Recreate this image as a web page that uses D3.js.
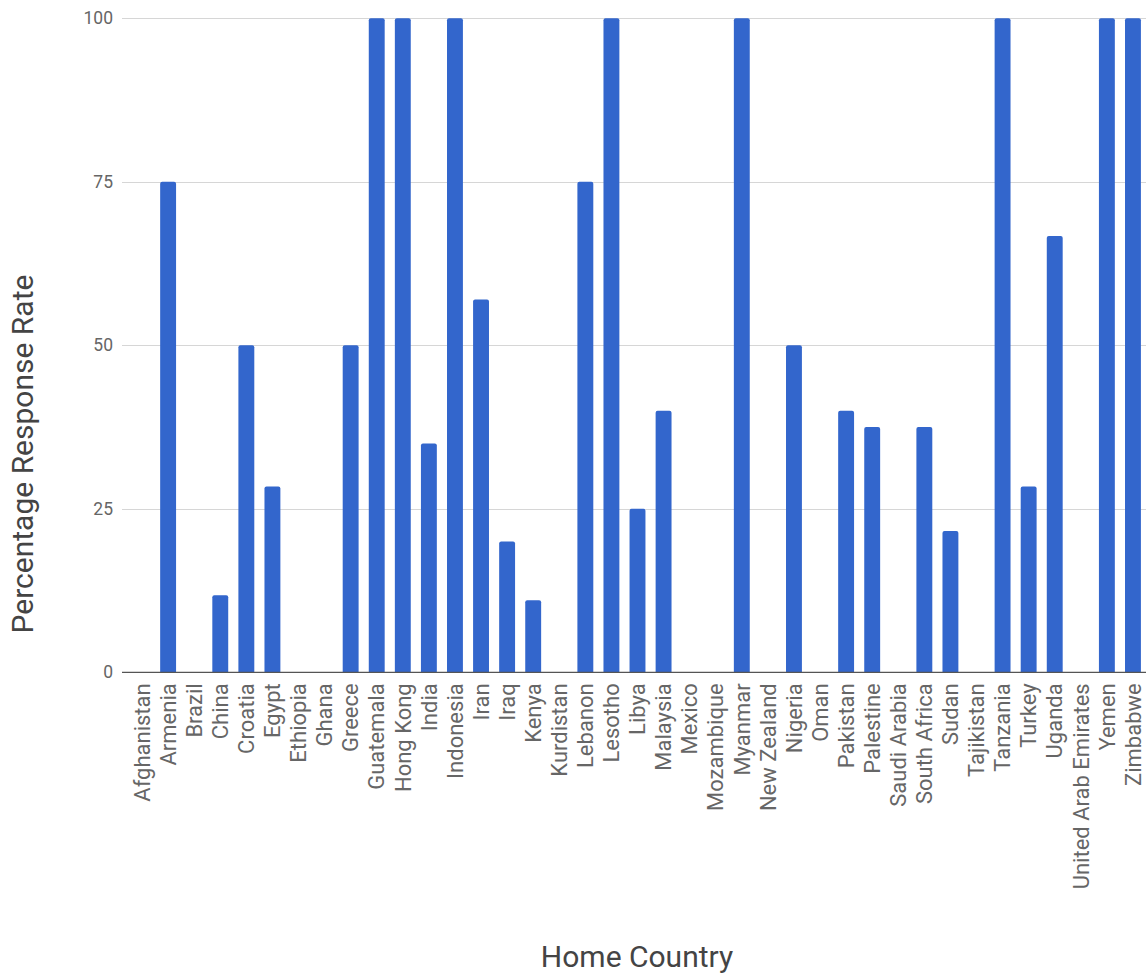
<!DOCTYPE html>
<html>
<head>
<meta charset="utf-8">
<script src="https://cdn.jsdelivr.net/npm/d3@7"></script>
<style>
  html, body { margin: 0; padding: 0; background: #fff; }
  svg { display: block; font-family: Roboto, "Noto Sans", sans-serif; }
</style>
</head>
<body>
<svg id="chart" width="1146" height="974"></svg>
<script>
const countries = ["Afghanistan","Armenia","Brazil","China","Croatia","Egypt","Ethiopia","Ghana","Greece","Guatemala","Hong Kong","India","Indonesia","Iran","Iraq","Kenya","Kurdistan","Lebanon","Lesotho","Libya","Malaysia","Mexico","Mozambique","Myanmar","New Zealand","Nigeria","Oman","Pakistan","Palestine","Saudi Arabia","South Africa","Sudan","Tajikistan","Tanzania","Turkey","Uganda","United Arab Emirates","Yemen","Zimbabwe"];
const responseRate = [0,75,0,11.8,50,28.4,0,0,50,100,100,35,100,57,20,11,0,75,100,25,40,0,0,100,0,50,0,40,37.5,0,37.5,21.6,0,100,28.4,66.7,0,100,100];
const yTicks = [0,25,50,75,100];
const xTitle = "Home Country";
const yTitle = "Percentage Response Rate";

const svg = d3.select("#chart");
const gridLeft = 122, plotRight = 1146;
const x = d3.scaleBand().domain(countries).range([129, 1146]).paddingInner(0.39).paddingOuter(0.195);
const y = d3.scaleLinear().domain([0, 100]).range([672.3, 18.3]);

// gridlines
svg.append("g").selectAll("line").data(yTicks.filter(d => d !== 0)).join("line")
  .attr("x1", gridLeft).attr("x2", plotRight)
  .attr("y1", d => Math.round(y(d)) + 0.5).attr("y2", d => Math.round(y(d)) + 0.5)
  .attr("stroke", "#d6d6d6").attr("stroke-width", 1.2);

// y tick labels via axis
const yAxis = svg.append("g").attr("transform", `translate(${gridLeft},0)`)
  .call(d3.axisLeft(y).tickValues(yTicks).tickSize(0).tickPadding(9).tickFormat(d3.format("d")));
yAxis.select(".domain").remove();
yAxis.selectAll("text").attr("font-size", 17.5).attr("fill", "#666").attr("font-family", "Roboto, sans-serif");

// bars with rounded top corners
const r = 2;
const bw = x.bandwidth();
svg.append("g").selectAll("path").data(countries.map((c, i) => ({c, v: responseRate[i]})).filter(d => d.v > 0)).join("path")
  .attr("fill", "#3366cc")
  .attr("d", d => {
    const x0 = x(d.c), x1 = x0 + bw, y0 = y(0), yt = y(d.v);
    return `M${x0},${y0}V${yt + r}Q${x0},${yt} ${x0 + r},${yt}H${x1 - r}Q${x1},${yt} ${x1},${yt + r}V${y0}Z`;
  });

// baseline
svg.append("line").attr("x1", gridLeft).attr("x2", plotRight)
  .attr("y1", y(0)).attr("y2", y(0)).attr("stroke", "#555").attr("stroke-width", 1.3);

// x axis labels
const xAxis = svg.append("g").attr("transform", `translate(0,${y(0)})`)
  .call(d3.axisBottom(x).tickSize(0).tickPadding(0));
xAxis.select(".domain").remove();
xAxis.selectAll("text")
  .attr("font-size", 22).attr("fill", "#666").attr("font-family", "Roboto, sans-serif")
  .attr("text-anchor", "end")
  .attr("dy", "0.35em")
  .attr("transform", "translate(0,11) rotate(-90)")
  .attr("x", 0).attr("y", 0);

// axis titles
svg.append("text").text(xTitle)
  .attr("x", 637).attr("y", 967).attr("text-anchor", "middle")
  .attr("font-size", 30).attr("fill", "#444");
svg.append("text").text(yTitle)
  .attr("transform", "translate(33,454) rotate(-90)").attr("text-anchor", "middle")
  .attr("font-size", 30).attr("fill", "#444");
</script>
</body>
</html>
